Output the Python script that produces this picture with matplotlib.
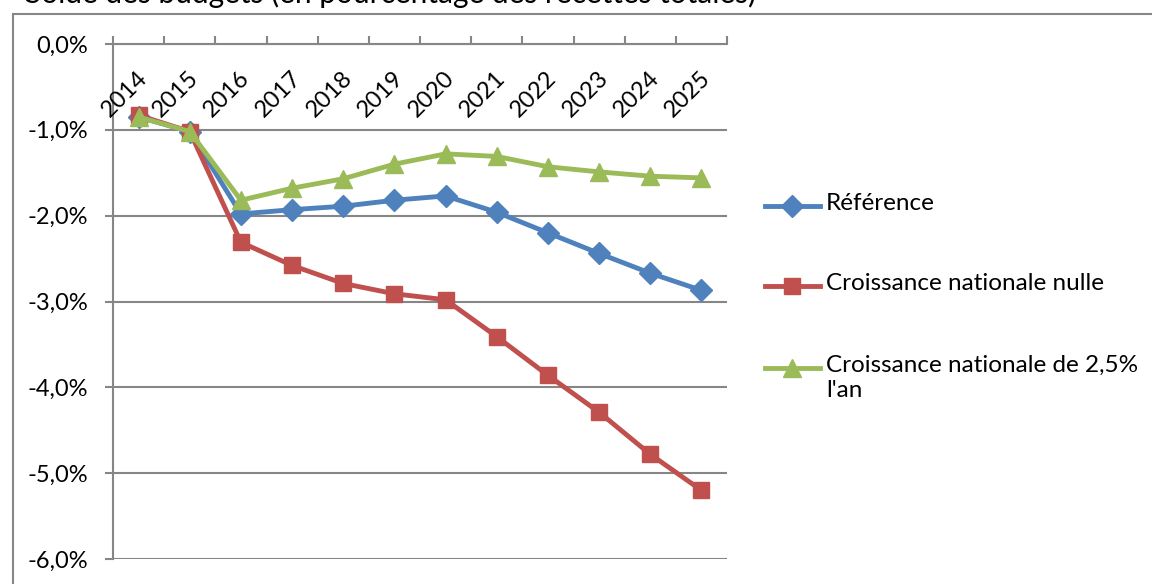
import numpy as np
import matplotlib.pyplot as plt
from matplotlib.lines import Line2D
from matplotlib.patches import Rectangle

plt.rcParams['font.family'] = ['Lato', 'DejaVu Sans']

years = ["2014", "2015", "2016", "2017", "2018", "2019", "2020", "2021", "2022", "2023", "2024", "2025"]
reference = [-0.85, -1.02, -1.98, -1.93, -1.89, -1.82, -1.77, -1.96, -2.20, -2.44, -2.67, -2.87]
nulle = [-0.83, -1.02, -2.31, -2.58, -2.79, -2.91, -2.98, -3.41, -3.86, -4.29, -4.78, -5.20]
croissance = [-0.85, -1.02, -1.82, -1.68, -1.57, -1.40, -1.28, -1.31, -1.43, -1.49, -1.54, -1.56]
labels = ["Référence", "Croissance nationale nulle", "Croissance nationale de 2,5%\nl'an"]

blue, red, green = "#4F81BD", "#C0504D", "#9BBB59"
grey = "#868686"
W, H = 1152, 584

fig = plt.figure(figsize=(11.52, 5.84), dpi=100)
ax = fig.add_axes([113 / W, 1 - 559 / H, 614 / W, 515 / H])

x = np.arange(len(years))
ax.plot(x, reference, color=blue, lw=3.5, marker="D", ms=11, zorder=3)
ax.plot(x, nulle, color=red, lw=3.5, marker="s", ms=11.5, zorder=3)
ax.plot(x, croissance, color=green, lw=3.5, marker="^", ms=12.5, zorder=3)

ax.set_xlim(-0.5, 11.5)
ax.set_ylim(-6, 0)
ax.set_yticks(np.arange(0, -7, -1))
ax.set_yticklabels(["{:.1f}%".format(v).replace(".", ",") for v in np.arange(0, -7, -1)], fontsize=17)
ax.yaxis.grid(True, color=grey, lw=1.5)
ax.set_axisbelow(True)
ax.tick_params(axis="y", length=6, width=1.5, color=grey, pad=12)

ax.xaxis.tick_top()
ax.set_xticks(np.arange(-0.5, 12, 1))
ax.set_xticklabels([])
ax.tick_params(axis="x", length=6, width=1.5, color=grey, direction="out")
for i, yr in enumerate(years):
    ax.annotate(yr, xy=(i, 0), xytext=(-10, -36), textcoords="offset points",
                ha="center", va="center", rotation=45, rotation_mode="anchor", fontsize=17)

for s in ["right", "bottom"]:
    ax.spines[s].set_visible(False)
for s in ["left", "top"]:
    ax.spines[s].set_color(grey)
    ax.spines[s].set_linewidth(1.5)

# legend drawn by hand
rows = [206, 286, 368]
markers = [("D", 11), ("s", 11.5), ("^", 12.5)]
for (m, ms), c, lab, yy in zip(markers, [blue, red, green], labels, rows):
    yf = 1 - yy / H
    fig.add_artist(Line2D([765 / W, 820 / W], [yf, yf], color=c, lw=3.5))
    fig.add_artist(Line2D([792 / W], [yf], color=c, marker=m, ms=ms, lw=0))
    fig.text(826 / W, 1 - (yy - 13) / H, lab, fontsize=17.5, va="top", ha="left", linespacing=1.25)

# chart frame and clipped title
fig.add_artist(Rectangle((13 / W, -0.05), 1.2, 1 - 14 / H + 0.05, transform=fig.transFigure,
                         fill=False, edgecolor=grey, lw=1.5))
fig.text(25 / W, 1 - 3 / H, "Solde des budgets (en pourcentage des recettes totales)",
         fontsize=21.5, va="baseline", ha="left")

fig.savefig("out.png", dpi=100)
